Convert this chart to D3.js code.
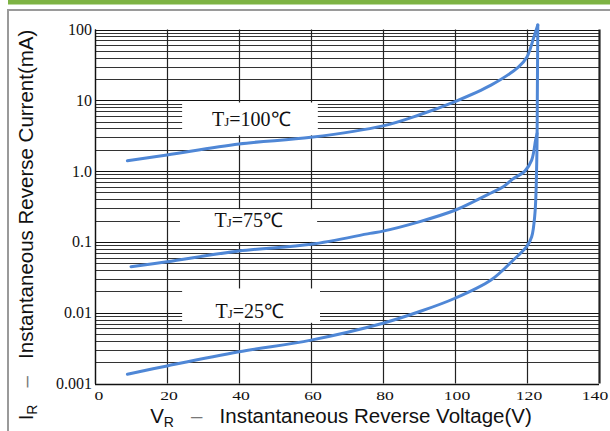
<!DOCTYPE html>
<html><head><meta charset="utf-8">
<script src="https://cdn.jsdelivr.net/npm/d3@7"></script>
<style>html,body{margin:0;padding:0;background:#fff;}svg{display:block;}</style>
</head><body>
<svg id="c" width="610" height="431"></svg>
<script>
const xTicks = [0, 20, 40, 60, 80, 100, 120, 140];
const yTicks = [100, 10, 1, 0.1, 0.01, 0.001];
const yTickLabels = ["100", "10", "1.0", "0.1", "0.01", "0.001"];
const tempLabels = ["100℃", "75℃", "25℃"];
const curve100 = [[9,1.40],[20,1.69],[40,2.42],[60,3.0],[80,4.35],[90,6.2],[100,9.6],[110,16.4],[117.6,29.5],[120,41],[121.8,75],[123,116]];
const curve75 = [[10,0.0447],[20,0.0525],[40,0.0743],[60,0.0925],[76.4,0.132],[80,0.142],[90,0.192],[100,0.28],[104.2,0.35],[110,0.49],[113.4,0.60],[116,0.77],[119.4,1.0],[121.3,1.43],[122.4,2.76],[122.8,3.4]];
const curve25 = [[9,0.00135],[20,0.00177],[40,0.00281],[60,0.0041],[80,0.0071],[90,0.0103],[100,0.016],[110,0.029],[116.2,0.0555],[119.9,0.0855],[121.3,0.118],[122.2,0.25],[122.7,1.29],[122.9,20],[123,116]];
const allCurves = [curve100, curve75, curve25];

const svg = d3.select("#c");
const L = 95, R = 599, T = 29.5, B = 383.5;
const x = d3.scaleLinear().domain([0, 140]).range([L, R]);
const y = d3.scaleLog().domain([0.001, 100]).range([B, T]);

// page frame
svg.append("rect").attr("x", 8).attr("y", 0).attr("width", 602).attr("height", 4.5).attr("fill", "#7db343");
svg.append("rect").attr("x", 7).attr("y", 9).attr("width", 603).attr("height", 2).attr("fill", "#9a9a9a");
svg.append("rect").attr("x", 7).attr("y", 9).attr("width", 2).attr("height", 422).attr("fill", "#9a9a9a");

// horizontal grid
const g = svg.append("g");
const hVals = y.ticks();
g.selectAll("line.h").data(hVals).join("line")
  .attr("x1", L).attr("x2", R)
  .attr("y1", d => Math.round(y(d)) + 0.5).attr("y2", d => Math.round(y(d)) + 0.5)
  .attr("stroke", d => Math.abs(Math.log10(d) - Math.round(Math.log10(d))) < 1e-6 ? "#111" : "#333")
  .attr("stroke-width", 1);
// vertical grid
g.selectAll("line.v").data(xTicks).join("line")
  .attr("x1", d => Math.round(x(d)) + 0.5).attr("x2", d => Math.round(x(d)) + 0.5)
  .attr("y1", T).attr("y2", B)
  .attr("stroke", "#222").attr("stroke-width", d => d === 140 ? 2.2 : 1.2);

// label boxes (white), cover grid
const boxes = [
  {x0: 24.2, x1: 61.9, y0: 9.3, y1: 3.2, ty: 4.3, tx: 43.4},
  {x0: 23.6, x1: 61.7, y0: 0.29, y1: 0.1, ty: 0.16, tx: 42.7},
  {x0: 24.2, x1: 62.5, y0: 0.022, y1: 0.0072, ty: 0.0085, tx: 43.0}
];
boxes.forEach((b, i) => {
  svg.append("rect").attr("x", x(b.x0)).attr("y", y(b.y0)).attr("width", x(b.x1) - x(b.x0))
    .attr("height", y(b.y1) - y(b.y0)).attr("fill", "#fff");
  const t = svg.append("text").attr("x", x(b.tx)).attr("y", y(b.ty))
    .attr("text-anchor", "middle").attr("font-family", "'Liberation Serif','Times New Roman',serif")
    .attr("font-size", 20).attr("fill", "#111");
  t.append("tspan").text("T");
  t.append("tspan").attr("font-size", 13).text("J");
  t.append("tspan").text("=" + tempLabels[i]);
});

// axes lines
svg.append("line").attr("x1", L + 0.5).attr("x2", L + 0.5).attr("y1", T).attr("y2", B + 0.5).attr("stroke", "#111").attr("stroke-width", 1.3);
svg.append("line").attr("x1", L).attr("x2", R).attr("y1", Math.round(B) + 0.5).attr("y2", Math.round(B) + 0.5).attr("stroke", "#111").attr("stroke-width", 1.3);

// curves
const line = d3.line().x(d => x(d[0])).y(d => y(d[1])).curve(d3.curveCatmullRom.alpha(0.5));
svg.selectAll("path.c").data(allCurves).join("path")
  .attr("d", line).attr("fill", "none").attr("stroke", "#4f87d6")
  .attr("stroke-width", 3).attr("stroke-linecap", "round").attr("stroke-linejoin", "round");

// y tick labels
svg.selectAll("text.yl").data(yTicks).join("text")
  .attr("x", 92).attr("y", d => y(d) + 5.5).attr("text-anchor", "end")
  .attr("font-family", "'Liberation Serif','Times New Roman',serif").attr("font-size", 16).attr("fill", "#111")
  .text((d, i) => yTickLabels[i]);
// x tick labels (wide, short glyphs)
svg.selectAll("text.xl").data(xTicks).join("text")
  .attr("x", d => x(d) + (d === 0 ? 4 : d === 140 ? -4 : 2)).attr("y", 399.5).attr("text-anchor", "middle")
  .attr("font-family", "'Liberation Serif','Times New Roman',serif").attr("font-size", 11.5).attr("fill", "#111")
  .attr("textLength", d => String(d).length * 8.8).attr("lengthAdjust", "spacingAndGlyphs")
  .text(d => String(d));

// axis titles
const SP = "\u00a0\u00a0\u00a0";
const xt = svg.append("text").attr("x", 341).attr("y", 422.5).attr("text-anchor", "middle")
  .attr("font-family", "'Liberation Sans',Arial,sans-serif").attr("font-size", 20.5).attr("fill", "#111");
xt.append("tspan").text("V");
xt.append("tspan").attr("font-size", 14).attr("dy", 4).text("R");
xt.append("tspan").attr("dy", -4).attr("fill", "#777").text(SP + "–" + SP);
xt.append("tspan").text("Instantaneous Reverse Voltage(V)");

const yt = svg.append("text").attr("transform", "translate(33,225) rotate(-90)").attr("text-anchor", "middle")
  .attr("font-family", "'Liberation Sans',Arial,sans-serif").attr("font-size", 20.5).attr("fill", "#111");
yt.append("tspan").text("I");
yt.append("tspan").attr("font-size", 14).attr("dy", 4).text("R");
yt.append("tspan").attr("dy", -4).attr("fill", "#777").text(SP + "–" + SP);
yt.append("tspan").text("Instantaneous Reverse Current(mA)");
</script>
</body></html>
